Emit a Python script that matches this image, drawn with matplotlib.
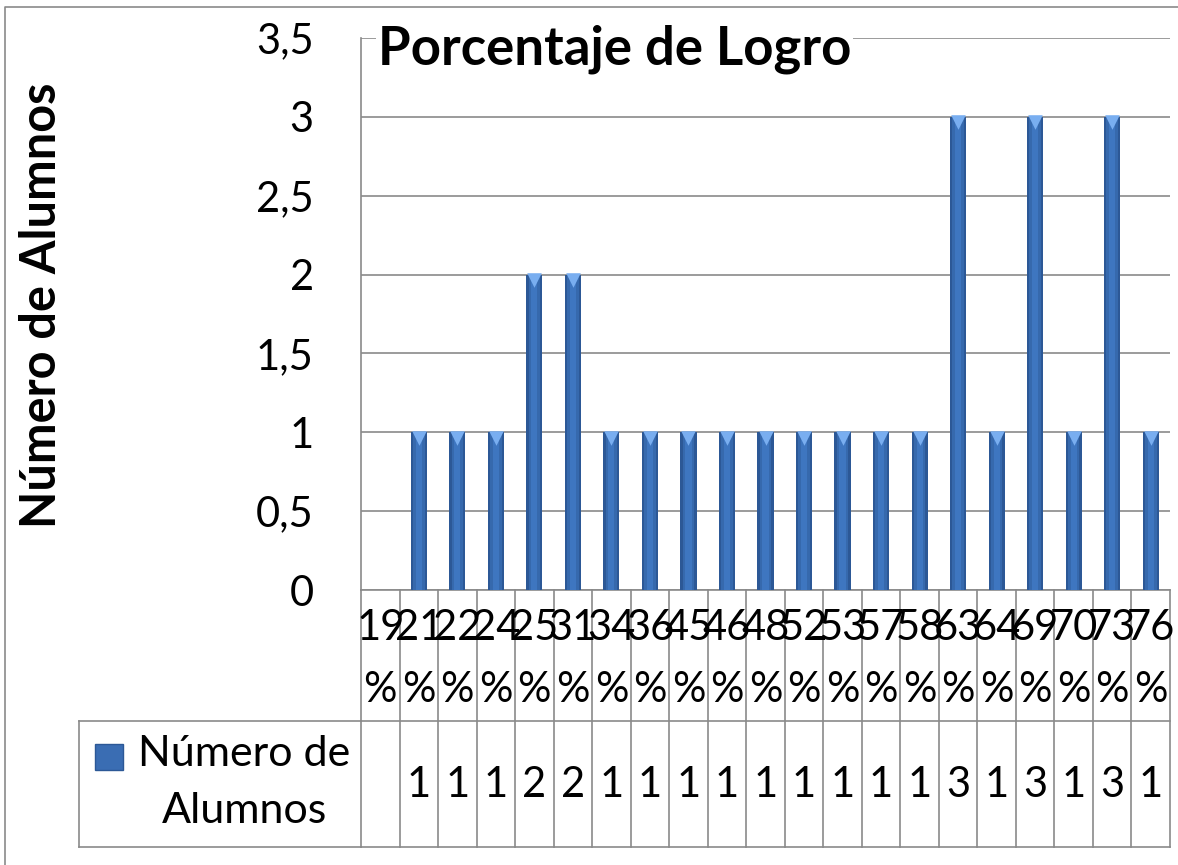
import numpy as np
import matplotlib.pyplot as plt
from matplotlib.lines import Line2D
from matplotlib.patches import Rectangle

# datos
categorias = ["19", "21", "22", "24", "25", "31", "34", "36", "45", "46", "48",
              "52", "53", "57", "58", "63", "64", "69", "70", "73", "76"]
alumnos = [None, 1, 1, 1, 2, 2, 1, 1, 1, 1, 1, 1, 1, 1, 1, 3, 1, 3, 1, 3, 1]
serie = "Número de Alumnos"
titulo = "Porcentaje de Logro"
yticks = [0, 0.5, 1, 1.5, 2, 2.5, 3, 3.5]

W, H = 1178, 865
gris = "#8a8a8a"
plt.rcParams['font.family'] = ['Lato', 'DejaVu Sans']

fig = plt.figure(figsize=(W / 100, H / 100), dpi=100)
# area del grafico (en pixeles de la imagen)
x0, x1, y0, y1 = 361, 1170, 38, 590
ax = fig.add_axes([x0 / W, 1 - y1 / H, (x1 - x0) / W, (y1 - y0) / H])

n = len(categorias)
x = np.arange(n)
vals = np.array([np.nan if v is None else v for v in alumnos], dtype=float)
ok = ~np.isnan(vals)

# barras tipo cilindro
ax.bar(x[ok], vals[ok], width=0.42, color="#2c5896", zorder=3)
ax.bar(x[ok], vals[ok], width=0.30, color="#3669ad", zorder=3)
ax.bar(x[ok], vals[ok], width=0.16, color="#3e76c0", zorder=3)
ax.scatter(x[ok], vals[ok] - 0.035, marker="v", s=110, color="#79aef0",
           linewidths=0, zorder=4)

ax.set_xlim(-0.5, n - 0.5)
ax.set_ylim(0, 3.5)
ax.set_yticks(yticks)
ax.set_yticklabels([("%g" % t).replace(".", ",") for t in yticks], fontsize=30)
ax.tick_params(axis="y", length=0, pad=34)
ax.set_xticks([])
ax.grid(axis="y", color=gris, lw=1.2, zorder=1)
for s in ["top", "right", "bottom"]:
    ax.spines[s].set_visible(False)
ax.spines["left"].set_color(gris)
ax.spines["left"].set_linewidth(1.2)

# tabla de datos bajo el eje
alto = y1 - y0
r1 = -(721 - y1) / alto
r2 = -(847 - y1) / alto
tr = ax.get_xaxis_transform()
for yy in [0, r1, r2]:
    ax.plot([-0.5, n - 0.5], [yy, yy], color=gris, lw=1.2, transform=tr, clip_on=False)
for i in range(n + 1):
    ax.plot([i - 0.5, i - 0.5], [0, r2], color=gris, lw=1.2, transform=tr, clip_on=False)
for i, c in enumerate(categorias):
    ax.text(i, -(628 - y1) / alto, c, ha="center", va="center", fontsize=30,
            transform=tr, clip_on=False)
    ax.text(i, -(690 - y1) / alto, "%", ha="center", va="center", fontsize=30,
            transform=tr, clip_on=False)
    if alumnos[i] is not None:
        ax.text(i, -(785 - y1) / alto, str(alumnos[i]), ha="center", va="center",
                fontsize=30, transform=tr, clip_on=False)

# celda de la leyenda
lx = 79
for xa, ya, xb, yb in [(lx, 721, x0, 721), (lx, 847, x0, 847), (lx, 721, lx, 847)]:
    fig.add_artist(Line2D([xa / W, xb / W], [1 - ya / H, 1 - yb / H], color=gris, lw=1.2))
fig.add_artist(Rectangle((95 / W, 1 - 770 / H), 28 / W, 26 / H, transform=fig.transFigure,
                         fc="#3a6db3", ec="#2c5896", lw=1))
fig.text(244 / W, 1 - 754 / H, "Número de", ha="center", va="center", fontsize=31)
fig.text(244 / W, 1 - 811 / H, "Alumnos", ha="center", va="center", fontsize=31)

# borde exterior
fig.add_artist(Line2D([5 / W, 5 / W, 1], [0, 1 - 7 / H, 1 - 7 / H], color=gris, lw=1.2))

# titulo y etiqueta del eje
fig.text(378 / W, 1 - 64 / H, titulo, ha="left", va="baseline", fontsize=38,
         fontweight="bold", bbox=dict(fc="white", ec="none", pad=1))
fig.text(42 / W, 1 - 305 / H, serie, rotation=90, ha="center", va="center",
         fontsize=35, fontweight="bold")

fig.savefig("out.png", dpi=100)
